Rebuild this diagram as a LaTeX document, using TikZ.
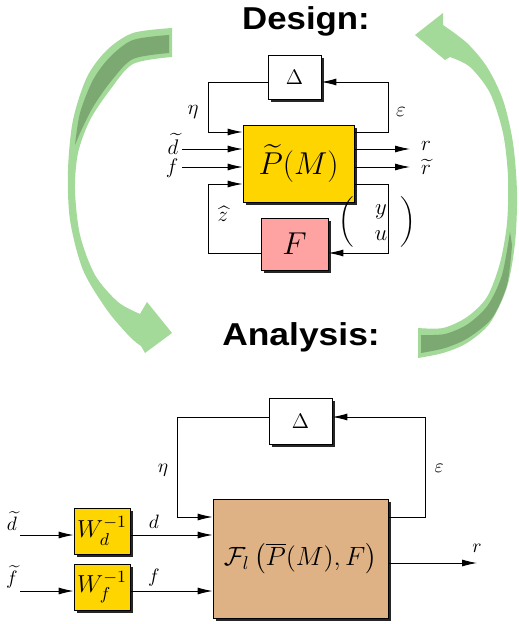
\RequirePackage{fix-cm}
\documentclass[tikz,border=0pt]{standalone}
\usepackage{amsmath}
\usepackage{fontspec}
\usepackage{graphicx}
\newfontfamily\headfont{Liberation Sans}
\usepackage{tikz}
\usetikzlibrary{arrows.meta,shadows}
\definecolor{plantgold}{RGB}{255,213,0}
\definecolor{ctrlpink}{RGB}{255,162,162}
\definecolor{lfttan}{RGB}{222,178,132}
\definecolor{loopgreen}{RGB}{163,217,153}
\definecolor{loopdark}{RGB}{124,168,113}
\tikzset{%
  block/.style    = {draw, line width=0.5pt, rectangle, inner sep=0pt,
    drop shadow={shadow xshift=0.06cm, shadow yshift=-0.055cm,
      opacity=1, fill=black!85}},
  sig/.style      = {inner sep=0pt, font=\fontsize{12}{14}\selectfont}, % Signal
  head/.style     = {inner sep=0pt,
    font=\headfont\bfseries\fontsize{18}{21}\selectfont} % Title
}

\begin{document}
\begin{tikzpicture}[x=0.02cm, y=-0.02cm, line width=0.5pt,
  >={Latex[length=0.3cm,width=0.14cm]}]
\useasboundingbox (0,0) rectangle (518,624);

% design -> analysis
\fill[loopgreen] plot[smooth] coordinates {(172,28) (133,33) (107,50) (87,77)
    (73,120) (68,170) (70,220) (83,270) (107,310) (130,337) (141,346)}
  -- (145,353) -- (172,333) -- (147,302) --
  plot[smooth] coordinates {(140,314) (118,302) (95,275) (80,235) (75,190)
    (78,153) (90,120) (110,90) (133,64) (172,57)} -- cycle;
\fill[loopdark] plot[smooth] coordinates {(169,35) (133,40) (110,57) (93,80)
    (80,113) (75,145)}
  -- plot[smooth] coordinates {(80,133) (93,107) (112,80) (133,59) (169,53)}
  -- cycle;
% analysis -> design
\fill[loopgreen] plot[smooth] coordinates {(418,358) (443,353) (467,343)
    (490,323) (507,287) (515,243) (517,193) (513,143) (503,100) (487,67)
    (467,43) (443,25)}
  -- (443,13) -- (415,35) -- (445,60) --
  plot[smooth] coordinates {(450,57) (470,67) (490,93) (503,133) (508,177)
    (507,223) (500,263) (487,297) (467,317) (443,328) (418,328)} -- cycle;
\fill[loopdark] plot[smooth] coordinates {(421,335) (445,334) (468,324)
    (488,305) (502,275) (510,232)}
  -- plot[smooth] coordinates {(512,245) (507,285) (492,318) (468,338)
    (445,348) (421,353)} -- cycle;

\node[head] (design) at (306,21) {\scalebox{1.1}[1]{Design:}};
\node[head] (analysis) at (301,337) {\scalebox{1.12}[1]{Analysis:}};

% design loop
\draw
    node at (294.5,77.5) [block, fill=white, minimum width=1.06cm,
      minimum height=0.88cm, font=\fontsize{12}{14}\selectfont, name=delta1] {$\Delta$}
    node at (298.5,163.5) [block, fill=plantgold, minimum width=2.22cm,
      minimum height=1.54cm, font=\fontsize{18}{21}\selectfont, name=plant] {$\widetilde{P}(M)$}
    node at (294.5,244) [block, fill=ctrlpink, minimum width=1.34cm,
      minimum height=1.04cm, font=\fontsize{18}{21}\selectfont, name=ctrl] {$F$}
;
\coordinate (etaup) at (208,82);
\coordinate (etadn) at (208,132);
\coordinate (epsup) at (388,82);
\coordinate (epsdn) at (388,132);
\coordinate (zup) at (208,184);
\coordinate (zdn) at (208,253);
\coordinate (yuup) at (388,184);
\coordinate (yudn) at (388,253);
\coordinate (dtin) at (182,149);
\coordinate (fin) at (182,167);
\coordinate (rout) at (410,149);
\coordinate (rtout) at (410,167);

\draw[->](etaup -| delta1.west) -- (etaup) -- (etadn) -- (etadn -| plant.west);
\draw[->](epsdn -| plant.east) -- (epsdn) -- (epsup) -- (epsup -| delta1.east);
\draw[->](zdn -| ctrl.west) -- (zdn) -- (zup) -- (zup -| plant.west);
\draw[->](yuup -| plant.east) -- (yuup) -- (yudn) -- (yudn -| ctrl.east);
\draw[->](dtin) -- (dtin -| plant.west);
\draw[->](fin) -- (fin -| plant.west);
\draw[->](rout -| plant.east) -- (rout);
\draw[->](rtout -| plant.east) -- (rtout);

\node[sig] (eta1) at (193,112) {$\eta$};
\node[sig] (eps1) at (401,112) {$\varepsilon$};
\node[sig] (dt1) at (173,144) {$\widetilde{d}$};
\node[sig] (f1) at (172,168) {$f$};
\node[sig] (r1) at (426,146) {$r$};
\node[sig] (rt1) at (426,167) {$\widetilde{r}$};
\node[sig] (zh1) at (223,214) {$\widehat{z}$};
\node[sig, font=\fontsize{13}{15}\selectfont] (yu1) at (377,222)
  {$\left(\begin{array}{@{\hspace{0.42cm}}c@{\hspace{0.26cm}}}y\\ u\end{array}\right)$};

% analysis loop
\draw
    node at (300.5,421) [block, fill=white, minimum width=1.26cm,
      minimum height=0.92cm, font=\fontsize{12}{14}\selectfont, name=delta2] {$\Delta$}
    node at (300.5,558.5) [block, fill=lfttan, minimum width=3.5cm,
      minimum height=2.38cm, font=\fontsize{15}{18}\selectfont, name=lft]
      {$\mathcal{F}_l\left(\overline{P}(M),F\right)$}
    node at (102,531) [block, fill=plantgold, minimum width=1.12cm,
      minimum height=0.92cm, font=\fontsize{14}{16}\selectfont, name=wd] {$W_d^{-1}$}
    node at (102,587) [block, fill=plantgold, minimum width=1.12cm,
      minimum height=0.92cm, font=\fontsize{14}{16}\selectfont, name=wf] {$W_f^{-1}$}
;
\coordinate (etaup2) at (177,417);
\coordinate (etadn2) at (177,517);
\coordinate (epsup2) at (425,417);
\coordinate (epsdn2) at (425,517);
\coordinate (dtin2) at (20,535);
\coordinate (ftin2) at (20,591);
\coordinate (rout2) at (477,563);

\draw[->](etaup2 -| delta2.west) -- (etaup2) -- (etadn2) -- (etadn2 -| lft.west);
\draw[->](epsdn2 -| lft.east) -- (epsdn2) -- (epsup2) -- (epsup2 -| delta2.east);
\draw[->](dtin2) -- (dtin2 -| wd.west);
\draw[->](ftin2) -- (ftin2 -| wf.west);
\draw[->](dtin2 -| wd.east) -- (dtin2 -| lft.west);
\draw[->](ftin2 -| wf.east) -- (ftin2 -| lft.west);
\draw[->](rout2 -| lft.east) -- (rout2);

\node[sig, font=\fontsize{11}{13}\selectfont] (eta2) at (163,470) {$\eta$};
\node[sig, font=\fontsize{11}{13}\selectfont] (eps2) at (439,468) {$\varepsilon$};
\node[sig, font=\fontsize{11}{13}\selectfont] (dt2) at (12,521) {$\widetilde{d}$};
\node[sig, font=\fontsize{11}{13}\selectfont] (ft2) at (12,577) {$\widetilde{f}$};
\node[sig, font=\fontsize{11}{13}\selectfont] (d2) at (154,522) {$d$};
\node[sig, font=\fontsize{11}{13}\selectfont] (f2) at (154,578) {$f$};
\node[sig, font=\fontsize{11}{13}\selectfont] (r2) at (477,548) {$r$};
\end{tikzpicture}
\end{document}
